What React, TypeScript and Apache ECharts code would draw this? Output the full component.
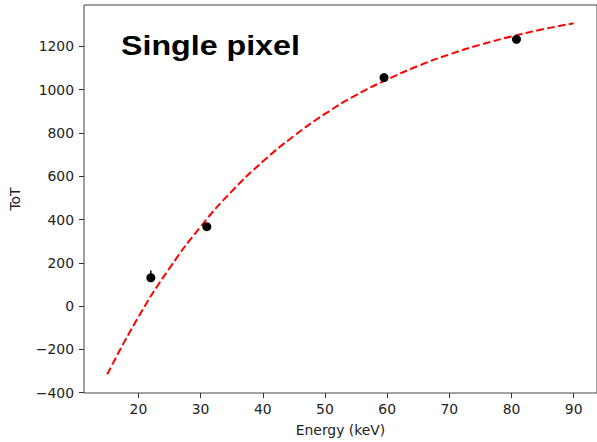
import React, { useEffect, useRef } from "react";
import * as echarts from "echarts";

// Measured points (Energy keV, ToT)
const pointEnergy = [22, 31, 59.5, 80.8];
const pointToT = [131, 367, 1056, 1233];
// Error bar for the first point (visible part)
const errLow = [131];
const errHigh = [165];
const errEnergy = [22];

// Fitted curve
const curveEnergy = [15, 20, 25, 30, 35, 40, 45, 50, 55, 60, 65, 70, 75, 80, 85, 90];
const curveToT = [-315, -50, 175, 367, 530, 668, 786, 888, 975, 1047, 1110, 1163, 1208, 1246, 1279, 1307];

const xTicks = [20, 30, 40, 50, 60, 70, 80, 90];
const yTicks = [-400, -200, 0, 200, 400, 600, 800, 1000, 1200];

const fmtMinus = (v: number) => (v < 0 ? "\u2212" + Math.abs(v) : String(v));

export default function App() {
  const ref = useRef<HTMLDivElement>(null);
  useEffect(() => {
    document.body.style.margin = "0";
    const chart = echarts.init(ref.current!, null, { renderer: "svg" });
    const font = "DejaVu Sans";
    const tickColor = "#333";
    chart.setOption({
      animation: false,
      backgroundColor: "#fff",
      grid: {
        left: 82,
        top: 5,
        right: -4,
        bottom: 49,
        show: true,
        borderColor: "#444",
        borderWidth: 1,
      },
      graphic: [
        {
          type: "text",
          x: 121,
          y: 31,
          scaleX: 1.15,
          style: {
            text: "Single pixel",
            font: "bold 28px 'Liberation Sans', Arial, sans-serif",
            fill: "#000",
          },
        },
      ],
      xAxis: {
        type: "value",
        min: 11.25,
        max: 93.75,
        name: "Energy (keV)",
        nameLocation: "middle",
        nameGap: 30,
        nameTextStyle: { fontFamily: font, fontSize: 13.9, color: "#222" },
        axisLine: { show: false, onZero: false },
        axisTick: { show: true, length: 5, customValues: xTicks, lineStyle: { color: tickColor } },
        axisLabel: {
          customValues: xTicks,
          margin: 9,
          fontFamily: font,
          fontSize: 13.9,
          color: "#222",
          formatter: (v: number) => fmtMinus(v),
        },
        splitLine: { show: false },
      },
      yAxis: {
        type: "value",
        min: -401.5,
        max: 1391.5,
        name: "ToT",
        nameLocation: "middle",
        nameGap: 62,
        nameTextStyle: { fontFamily: font, fontSize: 13.9, color: "#222" },
        axisLine: { show: false, onZero: false },
        axisTick: { show: true, length: 5, customValues: yTicks, lineStyle: { color: tickColor } },
        axisLabel: {
          customValues: yTicks,
          margin: 10,
          fontFamily: font,
          fontSize: 13.9,
          color: "#222",
          formatter: (v: number) => fmtMinus(v),
        },
        splitLine: { show: false },
      },
      series: [
        {
          type: "line",
          data: curveEnergy.map((e, i) => [e, curveToT[i]]),
          smooth: true,
          showSymbol: false,
          lineStyle: { color: "#ff0000", width: 2, type: [7.7, 3.3] },
          z: 2,
        },
        {
          type: "custom",
          data: errEnergy.map((e, i) => [e, errLow[i], errHigh[i]]),
          renderItem: (params: any, api: any) => {
            const p1 = api.coord([api.value(0), api.value(1)]);
            const p2 = api.coord([api.value(0), api.value(2)]);
            return {
              type: "line",
              shape: { x1: p1[0], y1: p1[1], x2: p2[0], y2: p2[1] },
              style: { stroke: "#000", lineWidth: 1.5 },
            };
          },
          z: 3,
        },
        {
          type: "scatter",
          data: pointEnergy.map((e, i) => [e, pointToT[i]]),
          symbol: "circle",
          symbolSize: 9,
          itemStyle: { color: "#000", opacity: 1 },
          z: 4,
        },
      ],
    });
    return () => chart.dispose();
  }, []);
  return <div ref={ref} style={{ width: 597, height: 442 }} />;
}
